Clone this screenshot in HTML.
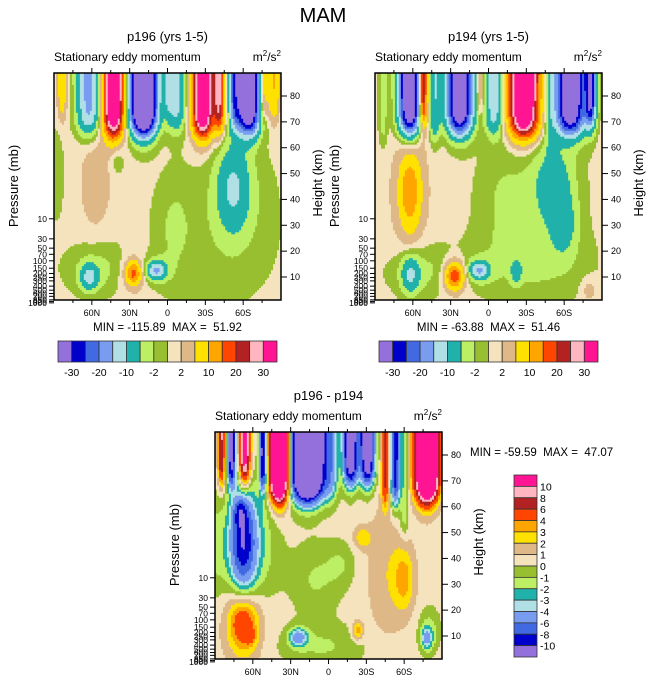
<!DOCTYPE html>
<html><head><meta charset="utf-8"><style>
body{margin:0;background:#fff;}
svg{display:block;font-family:"Liberation Sans",Arial,sans-serif;}
text{white-space:pre;}
</style></head><body>
<svg id="fig" width="647" height="683" viewBox="0 0 647 683" xmlns="http://www.w3.org/2000/svg">
<rect width="647" height="683" fill="#fff"/>
<text x="323" y="22" font-size="20" text-anchor="middle">MAM</text>
</svg>
<script>
// ---- data ----
const colors = ["#9370DB","#0000CD","#4169E1","#789DF0","#B0E0E6","#20B2AA","#BDEF64","#98BF30","#F5E3BE","#DEB887","#FFE100","#FFA500","#FF4500","#B22222","#FFB6C1","#FF1493"];
const levelsA = [-30,-25,-20,-15,-10,-5,-2,0,2,5,10,15,20,25,30];
const levelsB = [-10,-8,-6,-4,-3,-2,-1,0,1,2,3,4,6,8,10];
const labelsA = ["-30","-20","-10","-2","2","10","20","30"];
const labelsB = ["10","8","6","4","3","2","1","0","-1","-2","-3","-4","-6","-8","-10"];
const latTicks = [60,30,0,-30,-60];
const latTickLabels = ["60N","30N","0","30S","60S"];
const heightTicks = [10,20,30,40,50,60,70,80];
const pressureTicks = [10,30,50,70,100,150,200,250,300,400,500,600,700,850,925,1000];

// panel 1 (p196)
const p1ColLat = [83.5,62.5,42.7,19,-0.7,-7,-28,-41,-53,-64,-75.6,-84];
const p1ColAmp = [8,-18,45,-65,-8,-13,45,25,-15,-45,14,10];
const p1ColSig = [2.5,6.5,5.5,7,2.5,5,5.5,3,3,7,3,3];
const p1ColBot = [73,67,66,67,74,68,66,68,70,67,72,72];
const p1BlobLat = [-52,-55,-40,57,55,62,27,27,9,-5,40,9,88];
const p1BlobZ   = [45,42,22,47,13,10,11.5,11,12.5,30,55,12.5,50];
const p1BlobAmp = [-9,-2.5,-1.6,3.5,-3.5,-11,15,3,-14,-2.5,-2.5,-3,-2.5];
const p1BlobSLat= [9,18,35,8,18,5,4,9,5,10,4,9,4];
const p1BlobSZ  = [12,15,20,12,7,3.5,3,6,2.3,14,4,4,12];
const p1Base = 0.8;

// panel 2 (p194)
const p2ColLat = [83.5,62.5,52,42.7,23,7,-4.6,-28,-49,-65,-81];
const p2ColAmp = [-4,-45,30,-10,-45,8,-15,48,-5,-45,-30];
const p2ColSig = [2.5,6,2.5,3,7,2,5,8,3,8,3];
const p2ColBot = [62,67,70,64,67,74,67,66,60,67,70];
const p2BlobLat = [62.5,62.5,-52,-60,-45,-10,50,62,27,27,7.6,-22,-30,-80,7.6];
const p2BlobZ   = [43,43,46,30,40,40,12,11,10.5,10,12.5,12,15,5,12.5];
const p2BlobAmp = [11,3,-7,-6,-3,-2.5,-3.5,-10,17,3,-13,-7,-2.5,3,-3];
const p2BlobSLat= [5.5,11,10,7,20,15,20,5,5,10,5,3,35,4,9];
const p2BlobSZ  = [10,16,10,8,20,15,7,5,3.5,6,2.3,3,10,3,4];
const p2Base = 0.8;

// panel 3 (difference)
const p3ColLat = [85,77,66.5,52,39,16.6,-2,-17.6,-31,-45,-53,-60,-78];
const p3ColAmp = [8,-12,12,-12,25,-25,-4,-15,-15,6,-10,-2.5,25];
const p3ColSig = [2,2.5,3,2,5,9,4,4,4,2,2.5,2.5,6];
const p3ColBot = [70,70,70,68,64,64,64,70,70,62,62,50,64];
const p3BlobLat = [68,70,62,68,62,66,10,5,24,-23,-45,-27,-60,-78,-80,90,-10];
const p3BlobZ   = [46,58,45,16,10,15,32,6,9.5,12,35,48,32,9,12,45,38];
const p3BlobAmp = [-8,-4,-3,4.5,2,1.5,-1.6,-1.6,-5,3.5,1.3,2.2,2.8,-4,-2,-1.6,-1.2];
const p3BlobSLat= [7,4,14,8,3,13,14,25,5,3,10,5,6,3,6,7,8];
const p3BlobSZ  = [13,4,17,8,2.5,12,10,6,2.5,2.5,20,3,9,3,6,14,6];
const p3Base = 0.5;

// ---- drawing ----
const NS="http://www.w3.org/2000/svg";
const svg=document.getElementById('fig');
const ZT=88.9, ZB=1.1, W=227, H=227;
function mk(tag,attrs,parent){const e=document.createElementNS(NS,tag);for(const k in attrs)e.setAttribute(k,attrs[k]);(parent||svg).appendChild(e);return e;}
function txt(s,x,y,size,anchor,parent){const t=mk('text',{x:x,y:y,'font-size':size,'text-anchor':anchor||'start'},parent);t.textContent=s;return t;}

function field(lat,z,cl,ca,cs,cb,bl,bz,ba,bsl,bsz,base){
  let v=base;
  for(let i=0;i<cl.length;i++){const d=(lat-cl[i])/cs[i];v+=ca[i]*Math.exp(-0.5*d*d)/(1+Math.exp(-(z-cb[i])/2.8));}
  for(let i=0;i<bl.length;i++){const a=(lat-bl[i])/bsl[i],b=(z-bz[i])/bsz[i];v+=ba[i]*Math.exp(-0.5*(a*a+b*b));}
  return v;
}
function lev(v,levels){let i=0;while(i<levels.length&&v>=levels[i])i++;return i;}

function panel(name,x0,y0,levels,d,title,minmax,mmx,mmy){
  const g=mk('g',{});
  
  
  const latX=lat=>x0+(90-lat)/180*W;
  const zY=z=>y0+(ZT-z)/(ZT-ZB)*H;
  const N=114, c=W/N;
  for(let r=0;r<N;r++){
    const z=ZT-(r+0.5)/N*(ZT-ZB);
    let start=0,prev=-1;
    for(let k=0;k<=N;k++){
      let idx=-2;
      if(k<N){const lat=90-(k+0.5)/N*180;idx=lev(field(lat,z,...d),levels);}
      if(idx!==prev){
        if(prev>=0){
          const rc=mk('rect',{x:(x0+start*c).toFixed(2),y:(y0+r*c).toFixed(2),width:((k-start)*c+0.4).toFixed(2),height:(c+0.4).toFixed(2),fill:colors[prev]},g);
          
          
        }
        start=k;prev=idx;
      }
    }
  }
  const fr=mk('rect',{x:x0,y:y0,width:W,height:H,fill:'none',stroke:'#000','stroke-width':1.5},g);
  
  
  for(let lat=-75;lat<=75;lat+=15){
    const x=latX(lat), major=(lat%30===0);
    mk('line',{x1:x,x2:x,y1:y0+H,y2:y0+H+(major?5:3),stroke:'#000'},g);
    mk('line',{x1:x,x2:x,y1:y0,y2:y0-(major?5:3),stroke:'#000'},g);
  }
  latTicks.forEach((lat,i)=>{const t=txt(latTickLabels[i],latX(lat),y0+H+16,9,'middle',g);
    
    });
  heightTicks.forEach(h=>{const y=zY(h);mk('line',{x1:x0+W,x2:x0+W+6,y1:y,y2:y,stroke:'#000'},g);
    const t=txt(String(h),x0+W+9,y+3,9,'start',g);
    
    });
  pressureTicks.forEach(p=>{const y=zY(7.06*Math.log(1000/p));mk('line',{x1:x0-5,x2:x0,y1:y,y2:y,stroke:'#000'},g);
    const t=txt(String(p),x0-7,y+3,8.5,'end',g);
    
    });
  let t=txt(title,x0+W/2,y0-32,13,'middle',g);
  
  
  t=txt('Stationary eddy momentum',x0,y0-12,12,'start',g);
  
  
  t=mk('text',{x:x0+W,y:y0-12,'font-size':12,'text-anchor':'end'},g);
  t.innerHTML='m<tspan font-size="8" dy="-5">2</tspan><tspan dy="5">/s</tspan><tspan font-size="8" dy="-5">2</tspan>';
  
  
  t=txt('Pressure (mb)',0,0,13,'middle',g);
  t.setAttribute('transform',`translate(${x0-36},${y0+113}) rotate(-90)`);
  
  
  t=txt('Height (km)',0,0,13,'middle',g);
  t.setAttribute('transform',`translate(${x0+W+41},${y0+110}) rotate(-90)`);
  
  
  t=txt(minmax,mmx,mmy,11.5,mmx===x0+W/2?'middle':'start',g);
  
  
}

function hbar(name,x0,y0){
  const g=mk('g',{});
  
  
  const bw=219/16;
  colors.forEach((c,i)=>{const r=mk('rect',{x:x0+i*bw,y:y0,width:bw,height:21,fill:c,stroke:'#333','stroke-width':0.8},g);
    
    });
  labelsA.forEach((l,i)=>{const t=txt(l,x0+(2*i+1)*bw,y0+35,10.5,'middle',g);
    
    });
}
function vbar(name,x0,y0){
  const g=mk('g',{});
  
  
  const bh=182/16;
  colors.slice().reverse().forEach((c,i)=>{const r=mk('rect',{x:x0,y:y0+i*bh,width:23,height:bh,fill:c,stroke:'#333','stroke-width':0.8},g);
    
    });
  labelsB.forEach((l,i)=>{const t=txt(l,x0+26,y0+(i+1)*bh+4,10.5,'start',g);
    
    });
}

panel('panel-p196',54,73,levelsA,[p1ColLat,p1ColAmp,p1ColSig,p1ColBot,p1BlobLat,p1BlobZ,p1BlobAmp,p1BlobSLat,p1BlobSZ,p1Base],'p196 (yrs 1-5)','MIN = -115.89  MAX =  51.92',167.5,331);
panel('panel-p194',375,73,levelsA,[p2ColLat,p2ColAmp,p2ColSig,p2ColBot,p2BlobLat,p2BlobZ,p2BlobAmp,p2BlobSLat,p2BlobSZ,p2Base],'p194 (yrs 1-5)','MIN = -63.88  MAX =  51.46',488.5,331);
panel('panel-difference',215,432,levelsB,[p3ColLat,p3ColAmp,p3ColSig,p3ColBot,p3BlobLat,p3BlobZ,p3BlobAmp,p3BlobSLat,p3BlobSZ,p3Base],'p196 - p194','MIN = -59.59  MAX =  47.07',470,456);
hbar('colorbar-p196',58,341);
hbar('colorbar-p194',379,341);
vbar('colorbar-difference',514,475);
</script>
</body></html>
